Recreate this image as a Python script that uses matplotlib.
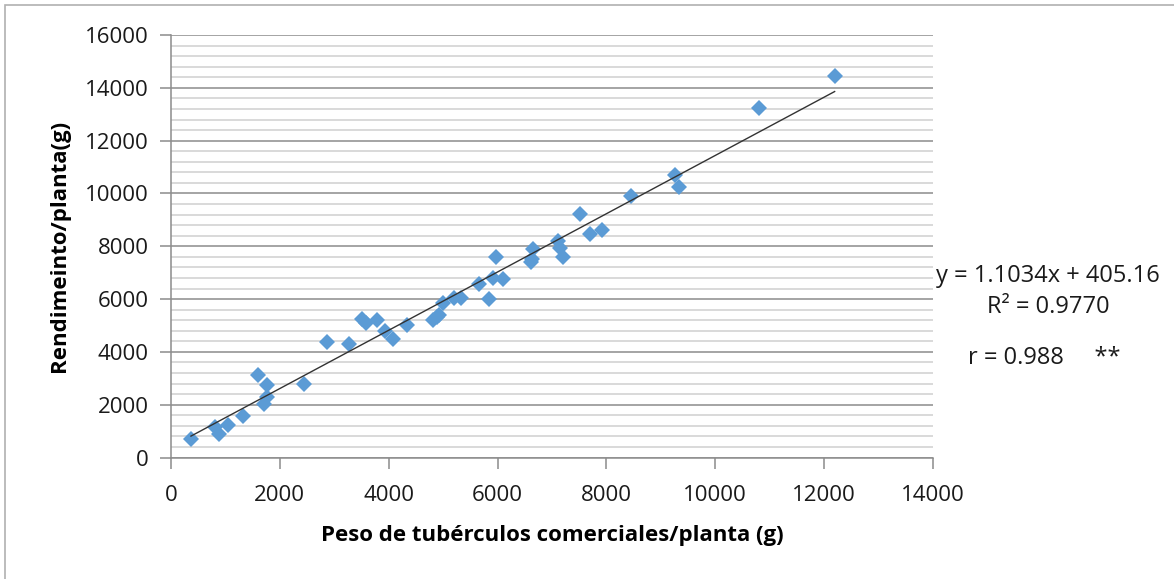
import numpy as np
import matplotlib
matplotlib.use('Agg')
import matplotlib.pyplot as plt
from matplotlib.ticker import MultipleLocator
from matplotlib.patches import Rectangle

# Data
peso = [367, 808, 888, 1053, 1317, 1592, 1757, 1770, 1715, 2443,
        2872, 3265, 3503, 3583, 3791, 3932, 4079, 4330, 4820, 4881,
        4930, 4992, 5200, 5322, 5658, 5842, 5965, 5923, 6094, 6657,
        6610, 6640, 7117, 7147, 7197, 7514, 7704, 7913, 8446, 9260,
        9327, 10810, 12193]
rendimiento = [710, 1150, 880, 1230, 1580, 3140, 2740, 2300, 2010, 2790,
               4380, 4300, 5260, 5100, 5210, 4780, 4480, 5020, 5220, 5320,
               5400, 5840, 6040, 6030, 6570, 6000, 7590, 6780, 6770, 7880,
               7420, 7500, 8180, 7930, 7590, 9240, 8460, 8610, 9920, 10700,
               10250, 13250, 14430]
slope = 1.1034
intercept = 405.16

xlabel = "Peso de tubérculos comerciales/planta (g)"
ylabel = "Rendimeinto/planta(g)"
eq_text = "y = 1.1034x + 405.16"
r2_text = "R² = 0.9770"
r_text = "r = 0.988     **"

plt.rcParams['font.family'] = ['Open Sans', 'DejaVu Sans']

fig = plt.figure(figsize=(11.74, 5.79), dpi=100)
fig.patches.append(Rectangle((5 / 1174, -0.1), 1.2, 1 - 5 / 579 + 0.1,
                             transform=fig.transFigure, fill=False,
                             edgecolor='#b0b0b0', linewidth=1.2))
ax = fig.add_axes([171 / 1174, 1 - 457.5 / 579, 762 / 1174, 422.5 / 579])

ax.set_xlim(0, 14000)
ax.set_ylim(0, 16000)
ax.xaxis.set_major_locator(MultipleLocator(2000))
ax.yaxis.set_major_locator(MultipleLocator(2000))
ax.yaxis.set_minor_locator(MultipleLocator(400))

ax.grid(True, axis='y', which='major', color='#8c8c8c', linewidth=1.1)
ax.grid(True, axis='y', which='minor', color='#d0d0d0', linewidth=1.1)
ax.set_axisbelow(True)
for side in ('top', 'right'):
    ax.spines[side].set_visible(False)
for side in ('left', 'bottom'):
    ax.spines[side].set_color('#8c8c8c')
    ax.spines[side].set_linewidth(1.1)
ax.tick_params(axis='both', which='major', direction='out', length=8,
               width=1.1, color='#8c8c8c', labelsize=16, labelcolor='#1a1a1a')
ax.tick_params(axis='y', which='minor', length=0)
ax.tick_params(axis='y', pad=8)
ax.tick_params(axis='x', pad=12)

# Scatter points
ax.plot(peso, rendimiento, linestyle='none', marker='D', markersize=8.5,
        color='#5b9bd5', markeredgewidth=0, zorder=3, clip_on=False)

# Linear trendline
xs = np.array([min(peso), max(peso)])
ax.plot(xs, slope * xs + intercept, color='#333333', linewidth=1.0, zorder=4)

ax.set_xlabel(xlabel, fontsize=16, fontweight='bold')
ax.set_ylabel(ylabel, fontsize=16, fontweight='bold')
ax.xaxis.set_label_coords(0.5, -0.16)
ax.yaxis.set_label_coords(-0.133, 0.5)

fig.text(1048 / 1174, 1 - 276 / 579, eq_text, fontsize=17, ha='center',
         va='center', color='#1a1a1a')
fig.text(1048 / 1174, 1 - 307 / 579, r2_text, fontsize=17, ha='center',
         va='center', color='#1a1a1a')
fig.text(968 / 1174, 1 - 358 / 579, r_text, fontsize=17, ha='left',
         va='center', color='#1a1a1a')

fig.savefig('out.png', dpi=100)
